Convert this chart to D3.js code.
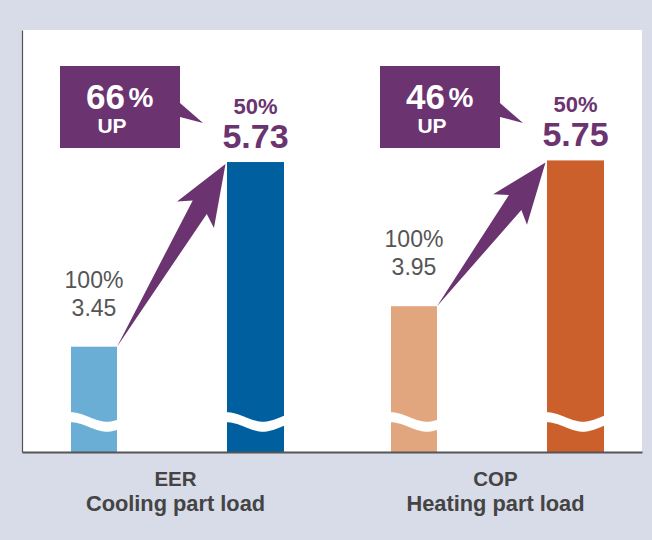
<!DOCTYPE html>
<html>
<head>
<meta charset="utf-8">
<script src="https://cdn.jsdelivr.net/npm/d3@7/dist/d3.min.js"></script>
<style>
  html, body { margin: 0; padding: 0; background: #d8dbe8; }
  svg { display: block; font-family: "Liberation Sans", Arial, Helvetica, sans-serif; }
</style>
</head>
<body>
<script>
// Part-load efficiency compared with full load
const groups = ["EER", "COP"];
const groupSubtitles = ["Cooling part load", "Heating part load"];
const loadLevels = ["full", "part"];
const loadLabels = ["100%", "50%"];
const fullLoadValues = [3.45, 3.95];
const partLoadValues = [5.73, 5.75];
const improvementPct = [66, 46];

const W = 652, H = 540;
const panel = { left: 22, right: 642, top: 30, bottom: 452 };
const purple = "#6b3470";
const colors = {
  EER: { full: "#6aaed6", part: "#00609f" },
  COP: { full: "#e2a67f", part: "#cb602c" }
};
const barWidth = { full: 46, part: 57 };

const svg = d3.select("body").append("svg").attr("width", W).attr("height", H);

// Broken value axis: the scale starts above zero
const y = d3.scaleLinear().domain([2.15, 7.36]).range([panel.bottom, panel.top]);
const x0 = d3.scaleBand().domain(groups).range([17, 657]).padding(0);
const x1 = d3.scalePoint().domain(loadLevels).range([77, 238.5]);

const rows = groups.map((g, i) => ({
  group: g,
  subtitle: groupSubtitles[i],
  full: fullLoadValues[i],
  part: partLoadValues[i],
  pct: improvementPct[i]
}));

// white plot panel
svg.append("rect")
  .attr("x", panel.left).attr("y", panel.top)
  .attr("width", panel.right - panel.left).attr("height", panel.bottom - panel.top)
  .attr("fill", "#fff");

const barX = (g, lvl) => x0(g) + x1(lvl) - barWidth[lvl] / 2;

const gGroups = svg.selectAll("g.grp").data(rows).join("g").attr("class", "grp");

// bars
gGroups.each(function (d) {
  const g = d3.select(this);
  loadLevels.forEach(lvl => {
    const bx = barX(d.group, lvl), w = barWidth[lvl];
    g.append("rect")
      .attr("x", bx).attr("y", y(d[lvl]))
      .attr("width", w).attr("height", y.range()[0] - y(d[lvl]))
      .attr("fill", colors[d.group][lvl]);
    // wavy break band across the bar
    const yc = y.range()[0] - 30, A = 4.7, half = 5;
    const ts = d3.range(0, w + 0.01, 1);
    const top = ts.map(t => [bx + t, yc - A * Math.cos(Math.PI * t / 36) - half]);
    const bot = ts.slice().reverse().map(t => [bx + t, yc - A * Math.cos(Math.PI * t / 36) + half]);
    g.append("path")
      .attr("d", d3.line()(top.concat(bot)) + "Z")
      .attr("fill", "#fff");
  });
});

// axes (domain lines only)
svg.append("g")
  .attr("transform", `translate(${panel.left},0)`)
  .call(d3.axisLeft(y).tickValues([]).tickSizeOuter(0))
  .select(".domain").attr("stroke", "#555").attr("stroke-width", 1.2);
const xLine = d3.scaleLinear().domain([0, 1]).range([panel.left, panel.right]);
svg.append("g")
  .attr("transform", `translate(0,${panel.bottom})`)
  .call(d3.axisBottom(xLine).tickValues([]).tickSizeOuter(0))
  .select(".domain").attr("stroke", "#555").attr("stroke-width", 1.8);

// labels, arrows and callouts
gGroups.each(function (d) {
  const g = d3.select(this);
  const cx = x0(d.group) + x1("full");
  const ty = y(d.full);
  g.append("text").attr("x", cx).attr("y", ty - 59)
    .attr("text-anchor", "middle").attr("font-size", 23).attr("fill", "#555")
    .text(loadLabels[0]);
  g.append("text").attr("x", cx).attr("y", ty - 31)
    .attr("text-anchor", "middle").attr("font-size", 23).attr("fill", "#555")
    .text(d3.format(".2f")(d.full));

  // part-load value labels
  const px = x0(d.group) + x1("part");
  const py = y(d.part);
  g.append("text").attr("x", px).attr("y", py - 48)
    .attr("text-anchor", "middle").attr("font-size", 22).attr("font-weight", "bold")
    .attr("fill", purple).text(loadLabels[1]);
  g.append("text").attr("x", px).attr("y", py - 14)
    .attr("text-anchor", "middle").attr("font-size", 34).attr("font-weight", "bold")
    .attr("fill", purple).text(d3.format(".2f")(d.part));

  // arrow from full-load bar top to part-load bar top
  const S = [barX(d.group, "full") + barWidth.full, y(d.full)];
  const T = [barX(d.group, "part") - 1.5, y(d.part) + 2];
  const dx = T[0] - S[0], dy = T[1] - S[1], len = Math.hypot(dx, dy);
  const u = [dx / len, dy / len];
  const n = [-u[1], u[0]];
  const pt = (along, perp) => [T[0] - along * u[0] + perp * n[0], T[1] - along * u[1] + perp * n[1]];
  const arrow = [S, pt(48, -9.6), pt(57, -22.5), T, pt(61, 22.8), pt(52.5, 9.4)];
  g.append("path").attr("d", d3.line()(arrow) + "Z").attr("fill", purple);

  // callout box
  const bx = barX(d.group, "part") - 167, by = 66, bw = 120, bh = 82;
  g.append("rect").attr("x", bx).attr("y", by).attr("width", bw).attr("height", bh).attr("fill", purple);
  g.append("path")
    .attr("d", d3.line()([[bx + bw, by + 37], [bx + bw + 23, by + 57], [bx + bw, by + 51]]) + "Z")
    .attr("fill", purple);
  g.append("text").attr("x", bx + 26).attr("y", by + 42.5)
    .attr("font-size", 35).attr("font-weight", "bold").attr("fill", "#fff")
    .text(d.pct);
  g.append("text").attr("x", bx + 68.5).attr("y", by + 41)
    .attr("font-size", 28).attr("font-weight", "bold").attr("fill", "#fff")
    .text("%");
  g.append("text").attr("x", bx + 52).attr("y", by + 67.3)
    .attr("text-anchor", "middle").attr("font-size", 21).attr("font-weight", "bold").attr("fill", "#fff")
    .text("UP");

  // category labels
  const gc = x0(d.group) + x0.bandwidth() / 2;
  g.append("text").attr("x", gc - 1.5).attr("y", 486)
    .attr("text-anchor", "middle").attr("font-size", 20.5).attr("font-weight", "bold").attr("fill", "#444")
    .text(d.group);
  g.append("text").attr("x", gc - 1.5).attr("y", 511)
    .attr("text-anchor", "middle").attr("font-size", 21.8).attr("font-weight", "bold").attr("fill", "#444")
    .text(d.subtitle);
});
</script>
</body>
</html>
